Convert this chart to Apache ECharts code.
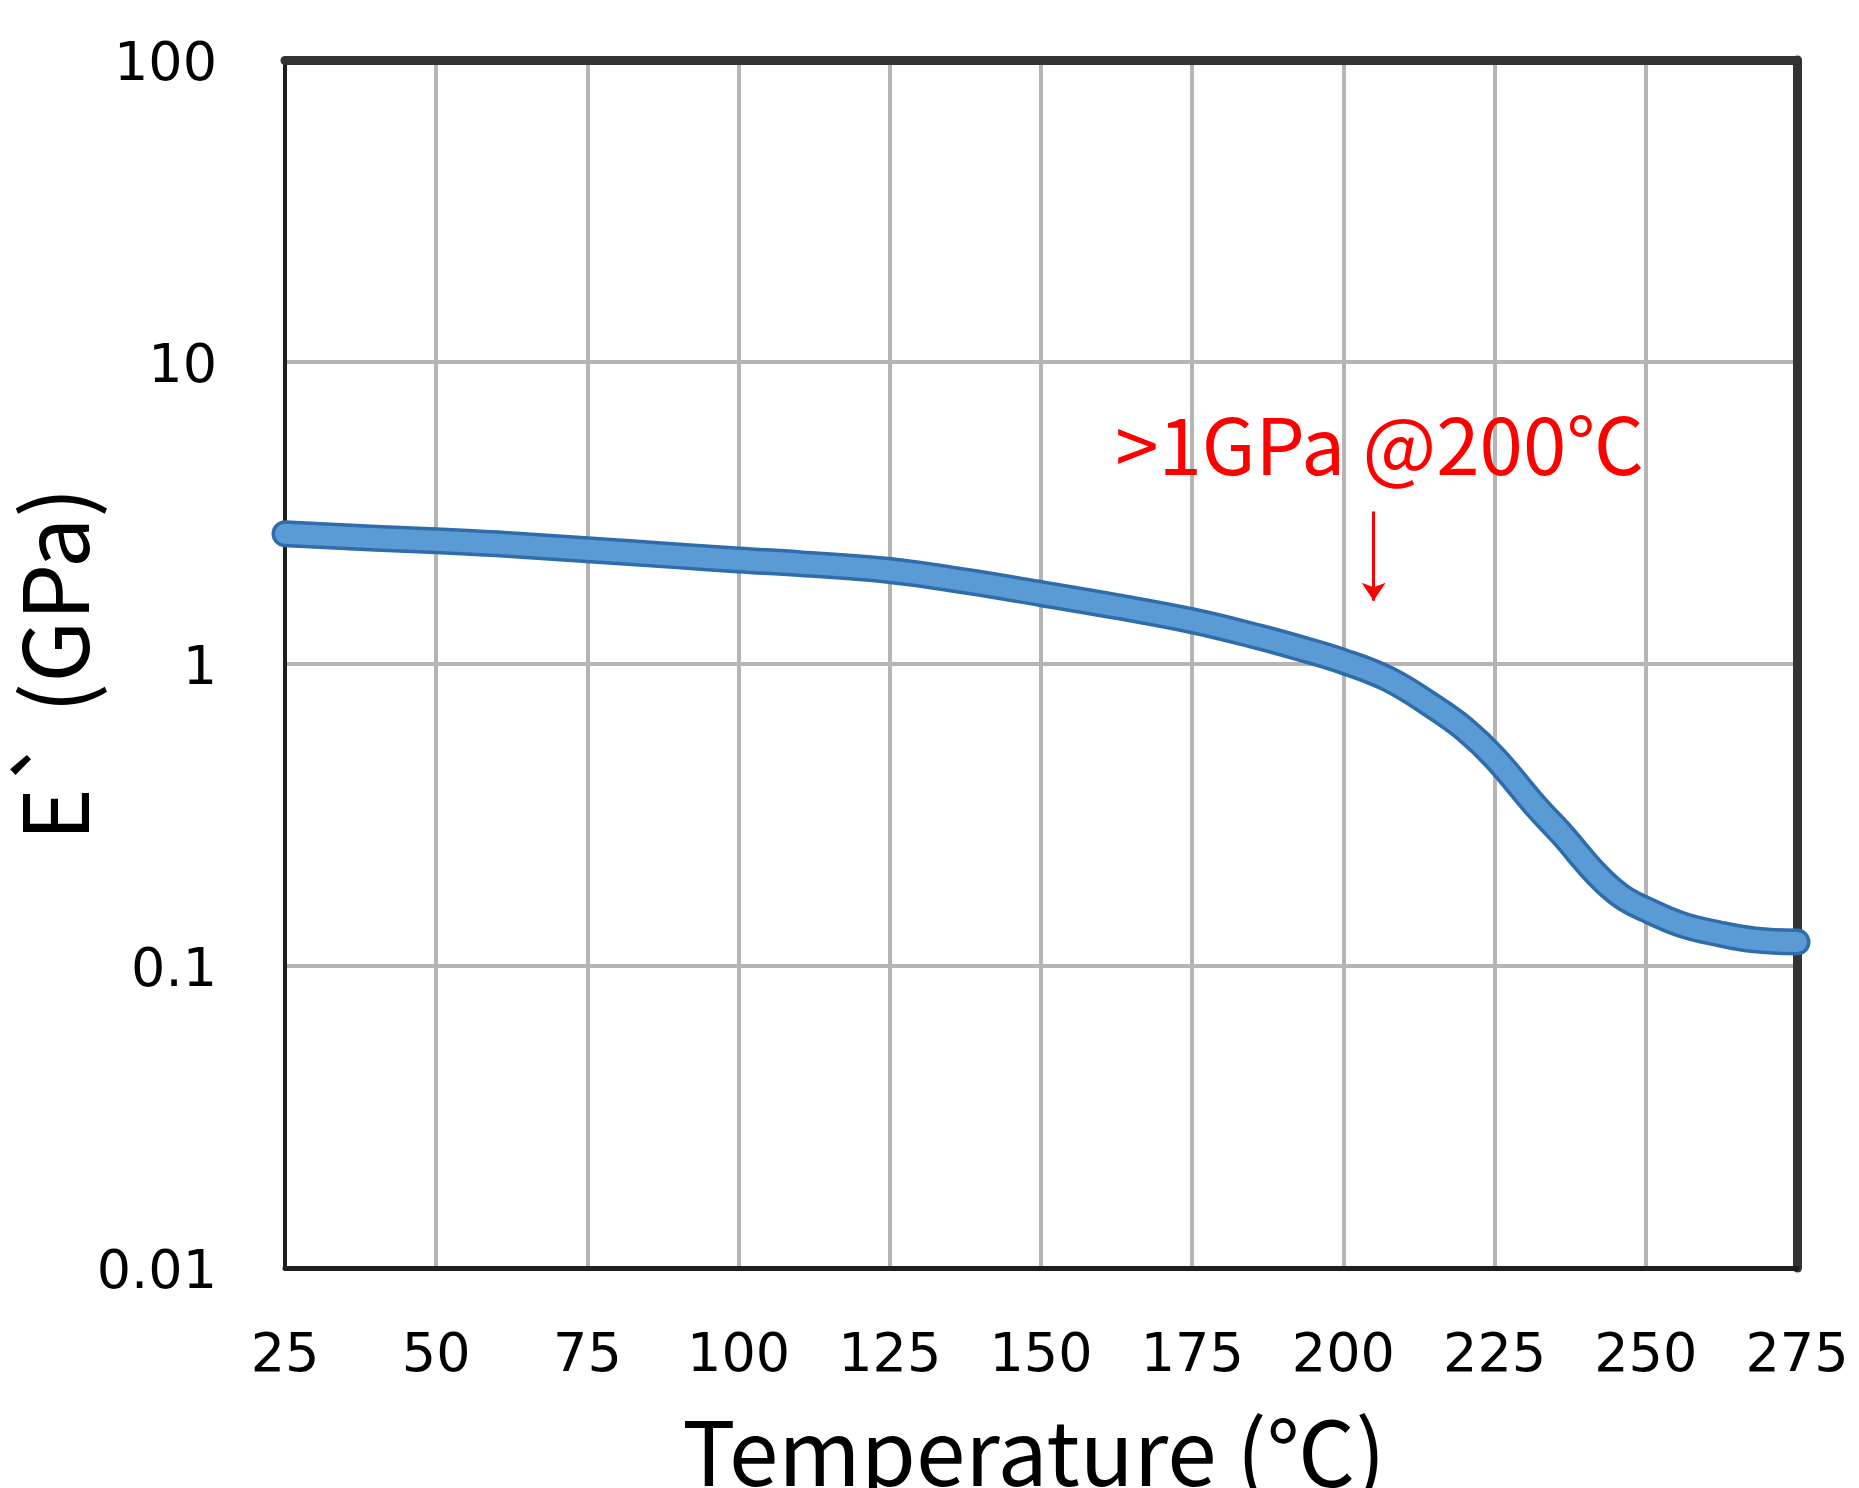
<!DOCTYPE html>
<html>
<head>
<meta charset="utf-8">
<script src="https://cdn.jsdelivr.net/npm/echarts@6/dist/echarts.min.js"></script>
<style>
html,body{margin:0;padding:0;background:#fff;}
#chart{width:1859px;height:1488px;}
</style>
</head>
<body>
<div id="chart"></div>
<script>
// ---- data ----
const temperatures = [25, 30, 40, 50, 60, 75, 90, 100, 110, 125, 137.5, 150, 162.5, 175, 186, 192, 200, 207.5, 215, 220, 225, 232, 236, 242, 246, 250, 256, 262, 268, 275];
const storageModulus = [2.70, 2.67, 2.61, 2.56, 2.50, 2.39, 2.28, 2.21, 2.15, 2.04, 1.88, 1.71, 1.55, 1.39, 1.23, 1.14, 1.02, 0.89, 0.72, 0.61, 0.49, 0.335, 0.275, 0.20, 0.17, 0.154, 0.137, 0.128, 0.122, 0.120];
const xTickLabels = ['25','50','75','100','125','150','175','200','225','250','275'];
const yTickLabels = ['0.01','0.1','1','10','100'];
const xTitle = 'Temperature (℃)';
const yTitle = 'E` (GPa)';
const annotationText = '>1GPa @200℃';
const annotationPos = [206, 5.3];
const arrowFrom = [205, 3.2];
const arrowTo = [205, 1.62];

const seriesData = temperatures.map((t, i) => [t, storageModulus[i]]);
const titleFont = 'Noto Sans CJK JP';
const tickFont = 'DejaVu Sans';

const chart = echarts.init(document.getElementById('chart'), null, {renderer: 'canvas'});
chart.setOption({
  animation: false,
  backgroundColor: '#ffffff',
  grid: {left: 285, right: 62, top: 60, bottom: 220, outerBoundsMode: 'none', containLabel: false},
  xAxis: [{
    type: 'value', min: 25, max: 275, interval: 25,
    position: 'bottom',
    name: xTitle, nameLocation: 'middle', nameGap: 140, nameMoveOverlap: false,
    nameTextStyle: {fontFamily: titleFont, fontSize: 89, color: '#000', padding: [0, 14, 0, 0]},
    axisLine: {show: true, onZero: false, lineStyle: {color: '#1e1e1e', width: 5}},
    axisTick: {show: false},
    splitLine: {show: true, lineStyle: {color: '#b5b5b5', width: 4}},
    axisLabel: {
      margin: 62, fontFamily: tickFont, fontSize: 54, color: '#000',
      formatter: v => xTickLabels[Math.round((v - 25) / 25)] ?? ''
    }
  }, {
    type: 'value', min: 25, max: 275, interval: 25, position: 'top',
    axisLine: {show: true, onZero: false, lineStyle: {color: '#333', width: 9}},
    axisTick: {show: false}, axisLabel: {show: false}, splitLine: {show: false}
  }],
  yAxis: [{
    type: 'log', logBase: 10, min: 0.01, max: 100,
    position: 'left',
    name: yTitle, nameLocation: 'middle', nameGap: 185, nameMoveOverlap: false,
    nameTextStyle: {fontFamily: titleFont, fontSize: 90, color: '#000'},
    axisLine: {show: true, onZero: false, lineStyle: {color: '#1e1e1e', width: 4}},
    axisTick: {show: false},
    minorTick: {show: false}, minorSplitLine: {show: false},
    splitLine: {show: true, lineStyle: {color: '#b5b5b5', width: 4}},
    axisLabel: {
      margin: 68, fontFamily: tickFont, fontSize: 54, color: '#000',
      formatter: v => '{t|' + (yTickLabels[Math.round(Math.log10(v)) + 2] ?? '') + '}',
      rich: {t: {fontFamily: tickFont, fontSize: 54, color: '#000', padding: [12, 0, 0, 0]}}
    }
  }, {
    type: 'log', logBase: 10, min: 0.01, max: 100, position: 'right',
    axisLine: {show: true, onZero: false, lineStyle: {color: '#333', width: 9}},
    axisTick: {show: false}, axisLabel: {show: false}, splitLine: {show: false}
  }],
  series: [{
    type: 'line', name: 'outline', data: seriesData, xAxisIndex: 0, yAxisIndex: 0,
    showSymbol: false, smooth: 0.4, clip: false, silent: true,
    lineStyle: {color: '#2f6cab', width: 27, cap: 'round', join: 'round'},
    z: 3
  }, {
    type: 'line', name: 'E', data: seriesData, xAxisIndex: 0, yAxisIndex: 0,
    showSymbol: false, smooth: 0.4, clip: false, silent: true,
    lineStyle: {color: '#5b9bd5', width: 20, cap: 'round', join: 'round'},
    z: 4,
    markPoint: {
      silent: true, symbol: 'circle', symbolSize: 0,
      label: {show: true, position: 'inside', formatter: annotationText,
        fontFamily: titleFont, fontSize: 78, color: '#ff0000'},
      data: [{coord: annotationPos}]
    },
    markLine: {
      silent: true, symbol: ['none', 'arrow'], symbolSize: 18,
      label: {show: false},
      lineStyle: {color: '#ff0000', width: 3, type: 'solid'},
      emphasis: {disabled: true},
      data: [[{coord: arrowFrom}, {coord: arrowTo}]]
    }
  }]
});
</script>
</body>
</html>
